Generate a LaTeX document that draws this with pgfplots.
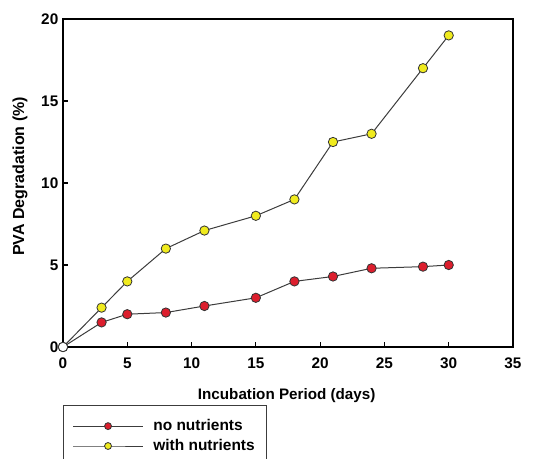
\documentclass[border=0pt]{standalone}
\usepackage{pgfplots}
\pgfplotsset{compat=1.18}
\usepackage{fontspec}
\setmainfont{Liberation Sans}
\definecolor{ptred}{RGB}{220,30,45}
\definecolor{ptyellow}{RGB}{240,235,30}
\definecolor{lgray}{RGB}{60,60,60}
\begin{document}
\begin{tikzpicture}
\begin{axis}[
  scale only axis,
  width=337.5pt, height=246pt,
  at={(0,0)}, anchor=south west,
  xmin=0, xmax=35, ymin=0, ymax=20,
  xtick={0,5,...,35}, ytick={0,5,...,20},
  tick align=inside,
  xtick pos=bottom, ytick pos=left,
  major tick length=3.75pt,
  axis line style={line width=1.4pt},
  tick style={line width=0.8pt, black},
  tick label style={font=\bfseries\fontsize{11.5}{13}\selectfont},
  /pgf/number format/assume math mode=true,
  xticklabel style={yshift=-4.5pt},
  xlabel={\bfseries Incubation Period (days)},
  ylabel={\bfseries PVA Degradation (\%)},
  xlabel style={font=\bfseries\fontsize{11.4}{13}\selectfont,
    at={(axis description cs:0.497,-0.1494)}, anchor=center},
  ylabel style={font=\bfseries\fontsize{12}{14}\selectfont,
    at={(axis description cs:-0.0956,0.52)}, anchor=center},
  clip=false,
  legend style={at={(axis description cs:0,-0.1768)}, anchor=north west,
    draw=lgray, line width=0.8pt, font=\bfseries\fontsize{11.6}{13}\selectfont,
    inner xsep=7pt, inner ysep=8.5pt, row sep=1pt,
    legend cell align=left},
  legend image code/.code={\draw[mark repeat=2,mark phase=2,#1,mark size=2.6pt] plot coordinates {(0pt,0pt) (26pt,0pt) (52pt,0pt)};
    \path[draw=none] (0pt,0pt) -- (58pt,0pt);},
]
\addplot[lgray, line width=0.75pt, mark=*, mark size=3.5pt,
  mark options={fill=ptred, draw=black!80, line width=0.6pt}]
  coordinates {(0,0) (3,1.5) (5,2) (8,2.1) (11,2.5) (15,3) (18,4) (21,4.3) (24,4.8) (28,4.9) (30,5)};
\addlegendentry{no nutrients}
\addplot[lgray, line width=0.75pt, mark=*, mark size=3.5pt,
  mark options={fill=ptyellow, draw=black!80, line width=0.6pt}]
  coordinates {(0,0) (3,2.4) (5,4) (8,6) (11,7.1) (15,8) (18,9) (21,12.5) (24,13) (28,17) (30,19)};
\addlegendentry{with nutrients}
\addplot[forget plot, only marks, mark=*, mark size=3.5pt,
  mark options={fill=white, draw=black!80, line width=0.6pt}]
  coordinates {(0,0)};
\end{axis}
\pgfresetboundingbox
\path[use as bounding box] (-47.25pt,-83.25pt) rectangle (352.5pt,260.25pt);
\end{tikzpicture}
\end{document}
